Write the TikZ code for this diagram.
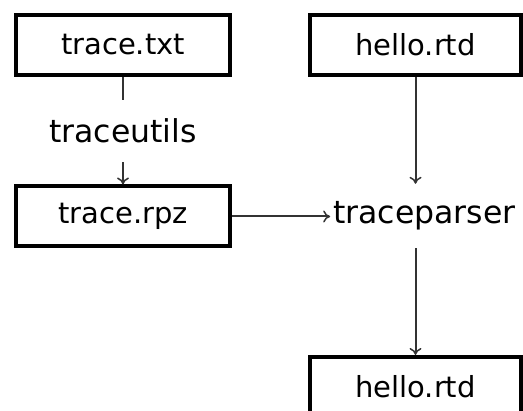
\documentclass[tikz,border=0pt]{standalone}
\usepackage{fontspec}
\setmainfont{DejaVu Sans}
\usetikzlibrary{arrows.meta}
\begin{document}
\begin{tikzpicture}[x=1pt,y=-1pt,
  filebox/.style={draw=black, line width=4pt, fill=white,
    minimum width=#1, minimum height=60pt, inner sep=0pt,
    font=\fontsize{29}{34}\selectfont},
  filebox/.default=214pt,
  tool/.style={inner sep=0pt, minimum height=62pt,
    font=\fontsize{31.5}{36}\selectfont},
  link/.style={draw=black!80, line width=2pt},
  flow/.style={link, -{To[length=7pt,width=12pt,line width=1.5pt]}}]
  \useasboundingbox (0,0) rectangle (523,411);
  \begin{scope}
    \clip (0,0) rectangle (523,411);
    % input files and tools
    \node[filebox] (txt) at (123,45) {trace.txt};
    \node[tool] (utils) at (123,131) {traceutils};
    \node[filebox] (rpz) at (123,216.5) {trace.rpz};
    \node[filebox=211pt] (rtdin) at (415.5,45) {hello.rtd};
    \node[tool, minimum height=64pt, inner xsep=3pt] (parser) at (424.5,216) {traceparser};
    \node[filebox=211pt] (rtdout) at (415.5,387) {hello.rtd};
    % connectors
    \draw[link] (txt.south) -- (utils.north);
    \draw[flow] (utils.south) -- (rpz.north);
    \draw[flow] (rpz.east) -- (parser.west |- rpz.east);
    \draw[flow] (rtdin.south) -- (rtdin.south |- parser.north);
    \draw[flow] (rtdin.south |- parser.south) -- (rtdout.north);
  \end{scope}
\end{tikzpicture}
\end{document}
